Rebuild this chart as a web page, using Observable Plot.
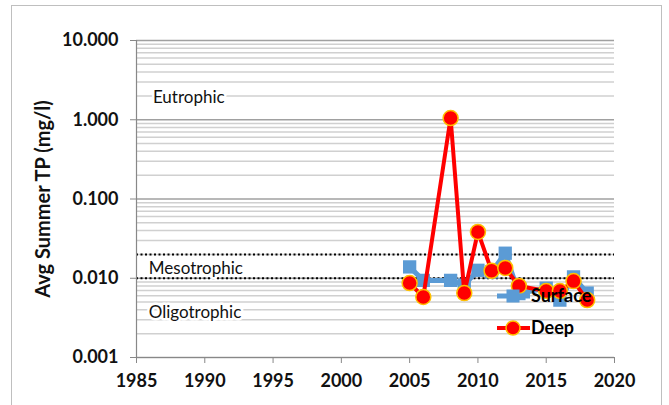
<!DOCTYPE html>
<html>
<head>
<meta charset="utf-8">
<script src="https://cdn.jsdelivr.net/npm/d3@7"></script>
<script src="https://cdn.jsdelivr.net/npm/@observablehq/plot@0.6"></script>
<style>
  html, body { margin: 0; padding: 0; background: #fff; }
  #wrap { position: relative; width: 669px; height: 405px; overflow: hidden; font-family: Lato, "Open Sans", sans-serif; }
  #frame { position: absolute; left: 11px; top: 5px; width: 651px; height: 440px; border: 1.5px solid #bfbfbf; box-sizing: border-box; pointer-events: none; }
  #legend { position: absolute; left: 492px; top: 284px; pointer-events: none; }
</style>
</head>
<body>
<div id="wrap">
  <div id="chart"></div>
  <div id="frame"></div>
  <svg id="legend" width="120" height="60"></svg>
</div>
<script>
// ---- data ----
const surfaceYears = [2005, 2006, 2008, 2009, 2010, 2011, 2012, 2013, 2015, 2016, 2017, 2018];
const surfaceTP    = [0.0139, 0.0094, 0.0094, 0.0082, 0.0126, 0.0120, 0.0207, 0.0064, 0.0075, 0.0053, 0.0104, 0.0065];
const deepYears    = [2005, 2006, 2008, 2009, 2010, 2011, 2012, 2013, 2015, 2016, 2017, 2018];
const deepTP       = [0.0087, 0.0058, 1.05, 0.0065, 0.0384, 0.0124, 0.0135, 0.0080, 0.0069, 0.0069, 0.0092, 0.0053];
const xTicks = [1985, 1990, 1995, 2000, 2005, 2010, 2015, 2020];
const yTicks = [0.001, 0.01, 0.1, 1, 10];
const thresholds = [0.02, 0.01];
const zoneNames = ["Eutrophic", "Mesotrophic", "Oligotrophic"];
const zoneY = [1.92, 0.0134, 0.0037];
const zoneX = [1986.2, 1985.9, 1985.9];
const seriesNames = ["Surface", "Deep"];

const surface = surfaceYears.map((y, i) => ({year: y, tp: surfaceTP[i]}));
const deep = deepYears.map((y, i) => ({year: y, tp: deepTP[i]}));
const zones = zoneNames.map((n, i) => ({name: n, x: zoneX[i], y: zoneY[i]}));
const minor = [];
for (let i = 0; i < yTicks.length - 1; i++) for (let k = 2; k <= 9; k++) minor.push(yTicks[i] * k);

const blue = "#5B9BD5", red = "#FF0000", gold = "#FFC000";
const font = "Lato, 'Open Sans', sans-serif";

const chart = Plot.plot({
  width: 669, height: 405,
  marginLeft: 136, marginRight: 55, marginTop: 40, marginBottom: 48,
  style: {fontFamily: font, background: "transparent", overflow: "visible"},
  x: {domain: [1985, 2020]},
  y: {type: "log", domain: [0.001, 10]},
  marks: [
    Plot.ruleY(minor, {stroke: "#d0d0d0", strokeWidth: 1.5}),
    Plot.ruleY(yTicks, {stroke: "#a0a0a0", strokeWidth: 1.5}),
    Plot.ruleY(thresholds, {stroke: "#000", strokeWidth: 2, strokeDasharray: "2,2.5"}),
    Plot.text(zones, {x: "x", y: "y", text: "name", textAnchor: "start", fontSize: 17, fill: "#111",
      stroke: "white", strokeWidth: 5}),
    Plot.axisY({ticks: yTicks, tickFormat: d3.format(".3f"), tickSize: 6, tickPadding: 12,
      fontSize: 18, fontWeight: "bold", stroke: "#888", fill: "#111", label: null}),
    Plot.axisX({ticks: xTicks, tickFormat: d => String(d), tickSize: 6, tickPadding: 11,
      fontSize: 18, fontWeight: "bold", stroke: "#888", fill: "#111", label: null}),
    Plot.ruleX([1985], {stroke: "#888", strokeWidth: 1.2}),
    Plot.ruleY([0.001], {stroke: "#888", strokeWidth: 1.2}),
    Plot.text(["Avg Summer TP (mg/l)"], {frameAnchor: "left", rotate: -90, dx: -93, textAnchor: "middle",
      fontSize: 20, fontWeight: "bold", fill: "#111"}),
    Plot.line(surface, {x: "year", y: "tp", stroke: blue, strokeWidth: 5}),
    Plot.dot(surface, {x: "year", y: "tp", symbol: "square", r: 7.5, fill: blue, stroke: "none"}),
    Plot.line(deep, {x: "year", y: "tp", stroke: red, strokeWidth: 4}),
    Plot.dot(deep, {x: "year", y: "tp", r: 7.5, fill: red, stroke: gold, strokeWidth: 1.5})
  ]
});
document.getElementById("chart").appendChild(chart);

// legend
const lg = d3.select("#legend");
const rows = [{name: seriesNames[0], color: blue, sym: "square"}, {name: seriesNames[1], color: red, sym: "circle"}];
rows.forEach((r, i) => {
  const cy = 12 + i * 32;
  lg.append("line").attr("x1", 5).attr("x2", 38).attr("y1", cy).attr("y2", cy)
    .attr("stroke", r.color).attr("stroke-width", r.sym === "square" ? 5 : 4);
  if (r.sym === "square") {
    lg.append("rect").attr("x", 21 - 6.5).attr("y", cy - 6.5).attr("width", 13).attr("height", 13).attr("fill", r.color);
  } else {
    lg.append("circle").attr("cx", 21).attr("cy", cy).attr("r", 7).attr("fill", r.color)
      .attr("stroke", gold).attr("stroke-width", 1.5);
  }
  lg.append("text").attr("x", 39).attr("y", cy + 6).attr("font-family", font).attr("font-size", 18)
    .attr("font-weight", "bold").attr("fill", "#000").text(r.name);
});
</script>
</body>
</html>
